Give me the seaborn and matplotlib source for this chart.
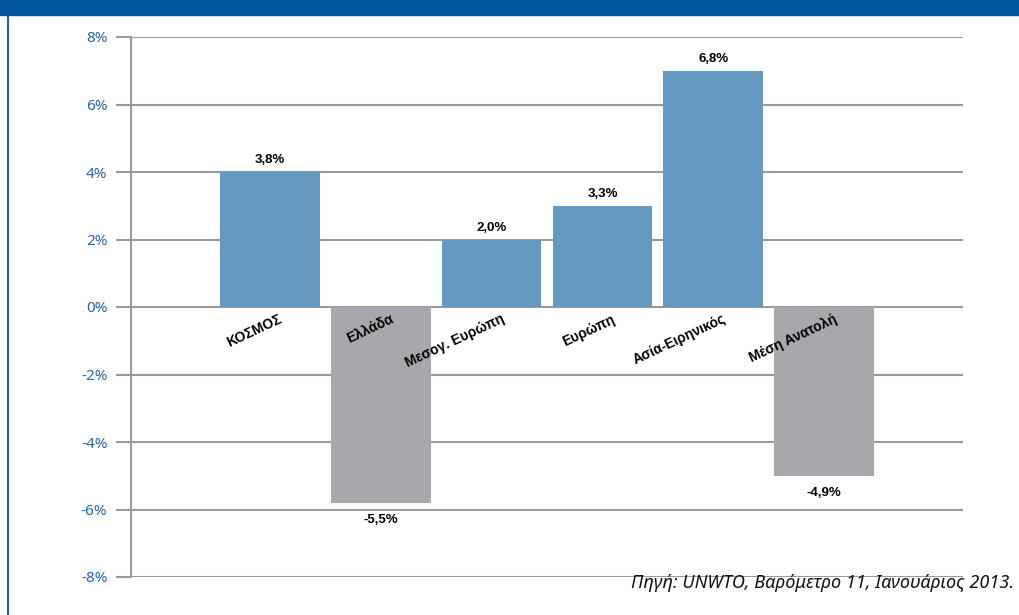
import matplotlib
matplotlib.use("Agg")
import matplotlib.pyplot as plt
import seaborn as sns
import pandas as pd

# data
regions = ["ΚΟΣΜΟΣ", "Ελλάδα", "Μεσογ. Ευρώπη", "Ευρώπη", "Ασία-Ειρηνικός", "Μέση Ανατολή"]
bar_heights = [4.0, -5.8, 2.0, 3.0, 7.0, -5.0]
value_labels = ["3,8%", "-5,5%", "2,0%", "3,3%", "6,8%", "-4,9%"]
y_ticks = [-8, -6, -4, -2, 0, 2, 4, 6, 8]
source_text = "Πηγή: UNWTO, Βαρόμετρο 11, Ιανουάριος 2013."

BLUE = "#6699c2"
GREY = "#a7a8ab"
TICK_BLUE = "#2a64a8"
GRID = "#9a9a9a"
BOLD_FONT = ["Liberation Sans", "DejaVu Sans"]

sns.set_style("white")
plt.rcParams["font.family"] = ["Noto Sans", "DejaVu Sans"]
plt.rcParams["text.color"] = "black"

df = pd.DataFrame({"region": regions, "value": bar_heights})
df["sign"] = ["pos" if v >= 0 else "neg" for v in bar_heights]

fig = plt.figure(figsize=(10.2, 6.15), dpi=100)
ax = fig.add_axes([131 / 1020, 1 - 577 / 615, (963 - 131) / 1020, 540 / 615])

sns.barplot(data=df, x="region", y="value", hue="sign",
            palette={"pos": BLUE, "neg": GREY}, dodge=False, width=0.9,
            saturation=1, linewidth=0, legend=False, ax=ax, zorder=3)

ax.set_xlim(-1.25, 6.25)
ax.set_ylim(-8, 8)
ax.set_yticks(y_ticks)
ax.set_yticklabels([f"{t}%" for t in y_ticks], color=TICK_BLUE, fontsize=11)
ax.set_xticks([])
ax.set_xlabel("")
ax.set_ylabel("")

for t in y_ticks:
    ax.axhline(t, color=GRID, lw=1.5, zorder=1)
ax.tick_params(axis="y", length=11, width=1.5, color=GRID, pad=6, left=True)
for side in ["top", "right", "bottom"]:
    ax.spines[side].set_visible(False)
ax.spines["left"].set_color(GRID)
ax.spines["left"].set_linewidth(1.5)

# value labels
for i, (v, lab) in enumerate(zip(bar_heights, value_labels)):
    if v >= 0:
        ax.annotate(lab, (i, v), xytext=(0, 4), textcoords="offset points",
                    ha="center", va="bottom", fontsize=9.5, fontweight="bold",
                    family=BOLD_FONT, color="black")
    else:
        ax.annotate(lab, (i, v), xytext=(0, -8), textcoords="offset points",
                    ha="center", va="top", fontsize=9.5, fontweight="bold",
                    family=BOLD_FONT, color="black")

# category labels just under the zero line
for i, name in enumerate(regions):
    ax.text(i + 0.08, -0.15, name, rotation=25, rotation_mode="anchor",
            ha="right", va="top", fontsize=10, fontweight="bold",
            family=BOLD_FONT, color="black", zorder=4)

# frame decorations: top banner and left rule
fig.patches.append(plt.Rectangle((0, 1 - 15 / 615), 1, 15 / 615, transform=fig.transFigure,
                                 color="#00579b", zorder=0))
fig.add_artist(plt.Line2D([8 / 1020, 8 / 1020], [0, 1 - 15 / 615], transform=fig.transFigure,
                          color="#1f5fa8", lw=1.5))

fig.text(1014 / 1020, 1 - 583 / 615, source_text, ha="right", va="center",
         fontsize=13, style="italic", color="#111111")

fig.savefig("out.png", dpi=100)
